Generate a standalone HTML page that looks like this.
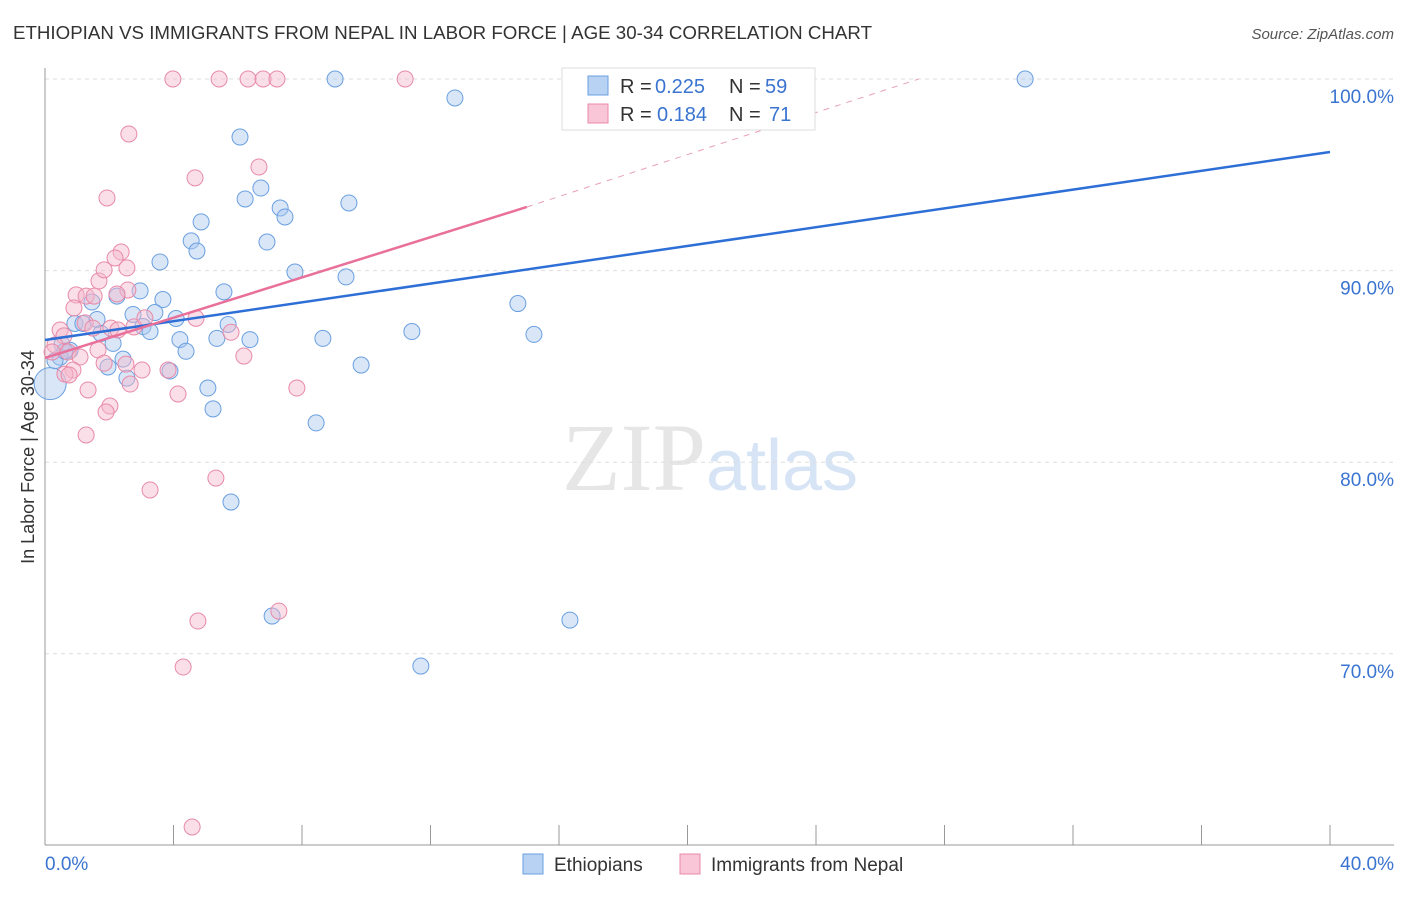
<!DOCTYPE html>
<html><head><meta charset="utf-8"><style>
body{margin:0;background:#fff;font-family:"Liberation Sans",sans-serif;}
</style></head><body>
<svg id="chart" width="1406" height="892" xmlns="http://www.w3.org/2000/svg" font-family="Liberation Sans, sans-serif">
<text x="13" y="39" font-size="18" fill="#333" textLength="859" lengthAdjust="spacingAndGlyphs">ETHIOPIAN VS IMMIGRANTS FROM NEPAL IN LABOR FORCE | AGE 30-34 CORRELATION CHART</text>
<text x="1394" y="39" font-size="15" fill="#555" text-anchor="end" font-style="italic">Source: ZipAtlas.com</text>
<text x="710" y="490" font-size="96" text-anchor="middle" fill="#e6e6e6" font-family="Liberation Serif, serif">ZIP<tspan fill="#d6e4f5" font-family="Liberation Sans, sans-serif" font-size="72">atlas</tspan></text>
<text transform="translate(34,457) rotate(-90)" font-size="18" fill="#333" text-anchor="middle">In Labor Force | Age 30-34</text>
<g id="grid"></g><g id="marks"></g>
<g>
<rect x="562" y="68" width="253" height="62" fill="#fff" stroke="#ddd"/>
<rect x="588" y="76" width="20" height="19" fill="#b8d2f3" stroke="#6a9fe0"/>
<text x="620" y="93" font-size="20" fill="#333">R =</text>
<text x="655" y="93" font-size="20" fill="#3a74d0">0.225</text>
<text x="729" y="93" font-size="20" fill="#333">N =</text>
<text x="765" y="93" font-size="20" fill="#3a74d0">59</text>
<rect x="588" y="104" width="20" height="19" fill="#f8c6d6" stroke="#e88aa8"/>
<text x="620" y="121" font-size="20" fill="#333">R =</text>
<text x="657" y="121" font-size="20" fill="#3a74d0">0.184</text>
<text x="729" y="121" font-size="20" fill="#333">N =</text>
<text x="769" y="121" font-size="20" fill="#3a74d0">71</text>
</g>
<g>
<rect x="523" y="854" width="20" height="20" fill="#b8d2f3" stroke="#6a9fe0"/>
<text x="554" y="871" font-size="19" fill="#333">Ethiopians</text>
<rect x="680" y="854" width="20" height="20" fill="#f8c6d6" stroke="#e88aa8"/>
<text x="711" y="871" font-size="19" fill="#333">Immigrants from Nepal</text>
</g>
<text x="45" y="870" font-size="19" fill="#3a74d0">0.0%</text>
<text x="1394" y="870" font-size="19" fill="#3a74d0" text-anchor="end">40.0%</text>
</svg>
<script>
const yTicks=[100,90,80,70];
const xTicks=[0,4,8,12,16,20,24,28,32,36,40];
const blueX=[9.03,12.76,20.70,30.51,6.07,6.23,6.72,7.32,7.47,9.46,4.86,4.55,4.73,6.91,3.58,7.78,9.37,5.57,2.96,2.24,1.46,3.67,3.42,2.74,4.08,0.93,1.18,1.62,3.05,3.27,1.74,5.70,5.35,6.38,4.20,8.65,11.42,15.22,14.72,4.39,2.12,0.53,0.78,0.47,2.43,1.96,3.89,9.84,2.55,5.07,5.23,8.44,5.79,7.07,16.34,11.70,0.31,0.62];
const blueY=[100,99.01,100,100,96.97,93.74,94.31,93.27,92.80,93.53,92.54,91.55,91.02,91.49,90.45,89.93,89.67,88.89,88.94,88.67,88.36,88.49,87.81,87.71,87.50,87.24,87.24,87.45,87.08,86.82,86.72,87.19,86.46,86.40,86.40,86.46,86.82,86.67,88.28,85.79,86.20,86.15,85.84,85.48,85.38,84.97,84.76,85.07,84.39,83.87,82.78,82.05,77.92,71.97,71.76,69.36,85.3,85.8];
const pinkX=[3.98,5.42,6.32,6.79,7.22,11.21,2.61,6.66,4.67,1.93,2.37,2.18,2.55,1.68,0.97,1.28,1.53,0.90,1.25,1.49,2.05,2.27,2.77,3.11,0.47,0.59,0.31,0.22,0.72,1.09,1.65,0.87,0.62,0.75,1.84,2.52,2.65,3.02,3.83,1.34,4.14,2.02,1.90,1.28,3.27,5.32,6.19,5.79,4.70,7.84,7.28,4.76,4.30,4.58,1.84,2.58,2.24];
const pinkY=[100,100,100,100,100,100,97.13,95.41,94.84,93.79,90.97,90.66,90.14,89.46,88.73,88.67,88.67,88.05,87.27,87.00,87.00,86.90,87.06,87.53,86.90,86.59,86.12,85.75,85.75,85.49,85.86,84.81,84.60,84.55,85.17,85.12,84.08,84.81,84.81,83.77,83.56,82.93,82.62,81.42,78.55,79.17,85.54,86.78,87.51,83.87,72.23,71.71,69.31,60.96,90.04,88.99,88.78];
const blueTrend=[[0,86.38],[40,96.19]];
const pinkTrend=[[0,85.44],[15,93.32]];
const pinkDash=[[15,93.32],[27.2,100]];
const NS='http://www.w3.org/2000/svg';
const sx=v=>45+v*(1285/40);
const sy=v=>79+(100-v)*19.16;
function mk(t,a,p){const e=document.createElementNS(NS,t);for(const k in a)e.setAttribute(k,a[k]);p.appendChild(e);return e;}
const grid=document.getElementById('grid'),marks=document.getElementById('marks');
yTicks.forEach(v=>{
 const l=mk('line',{x1:45,x2:1394,y1:sy(v),y2:sy(v),stroke:'#ddd','stroke-dasharray':'4,4'},grid);
 
 
 const t=mk('text',{x:1394,y:sy(v)+24,'font-size':19,fill:'#3a74d0','text-anchor':'end'},grid);
 t.textContent=v.toFixed(1)+'%';
 
 
});
const ax=mk('line',{x1:45,x2:45,y1:68,y2:845,stroke:'#999'},grid);


const bx=mk('line',{x1:45,x2:1394,y1:845,y2:845,stroke:'#999'},grid);


xTicks.forEach(v=>{
 const l=mk('line',{x1:sx(v),x2:sx(v),y1:825,y2:845,stroke:'#999'},grid);
 
 
});
function pts(X,Y,fill,stroke,name){
 X.forEach((x,i)=>{
  const c=mk('circle',{cx:sx(x),cy:sy(Y[i]),r:8,fill:fill,'fill-opacity':0.45,stroke:stroke,'stroke-width':1},marks);
  
  
 });
}
const big=mk('circle',{cx:sx(0.16),cy:sy(84.1),r:16,fill:'#a8c8f0','fill-opacity':0.45,stroke:'#6a9fe0'},marks);


pts(blueX,blueY,'#a8c8f0','#6a9fe0','ethiopians-point');
pts(pinkX,pinkY,'#f4b8cc','#e88aa8','nepal-point');
const bl=mk('line',{x1:sx(blueTrend[0][0]),y1:sy(blueTrend[0][1]),x2:sx(blueTrend[1][0]),y2:sy(blueTrend[1][1]),stroke:'#2d6fd6','stroke-width':2.5},marks);


const pl=mk('line',{x1:sx(pinkTrend[0][0]),y1:sy(pinkTrend[0][1]),x2:sx(pinkTrend[1][0]),y2:sy(pinkTrend[1][1]),stroke:'#e8709a','stroke-width':2.5},marks);


const pd=mk('line',{x1:sx(pinkDash[0][0]),y1:sy(pinkDash[0][1]),x2:sx(pinkDash[1][0]),y2:sy(pinkDash[1][1]),stroke:'#e8a0b8','stroke-width':1,'stroke-dasharray':'6,6'},marks);


</script>
</body></html>
